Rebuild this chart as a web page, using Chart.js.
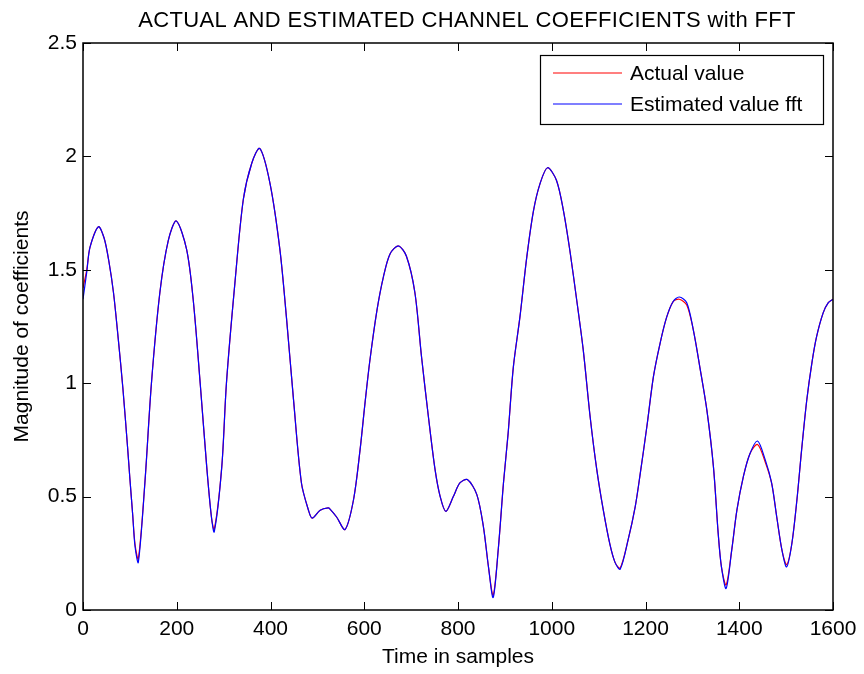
<!DOCTYPE html>
<html>
<head>
<meta charset="utf-8">
<title>Actual and estimated channel coefficients with FFT</title>
<script src="https://cdn.jsdelivr.net/npm/chart.js@4"></script>
<style>
  html, body { margin: 0; padding: 0; background: #fff; }
  canvas { display: block; }
</style>
</head>
<body>
<canvas id="chart" width="864" height="674"></canvas>
<script>
const samples = [
  0, 8, 15, 33, 45, 55, 65, 75, 85, 95, 100, 106, 111, 118, 132, 146, 164, 182, 199,
  221, 235, 250, 264, 274, 280, 296, 306, 324, 342, 360, 377, 399, 420, 434, 449,
  466, 481, 489, 506, 523, 527, 541, 559, 577, 591, 602, 612, 627, 641, 655, 673,
  690, 708, 722, 737, 751, 762, 774, 790, 804, 820, 840, 854, 865, 875, 886, 897,
  907, 918, 932, 947, 961, 975, 991, 1010, 1025, 1039, 1053, 1067, 1082, 1096, 1110, 1124,
  1135, 1146, 1163, 1178, 1188, 1203, 1217, 1231, 1245, 1259, 1272, 1288, 1302, 1316, 1331, 1345,
  1355, 1362, 1372, 1384, 1395, 1409, 1423, 1439, 1455, 1469, 1480, 1491, 1501, 1512, 1523, 1533,
  1544, 1555, 1565, 1579, 1590, 1600
];

const actualValues = [
  1.42, 1.50, 1.60, 1.69, 1.64, 1.54, 1.40, 1.20, 0.98, 0.72, 0.58, 0.42, 0.29, 0.225, 0.56, 1.00, 1.40, 1.63, 1.715,
  1.59, 1.37, 1.00, 0.63, 0.41, 0.355, 0.63, 1.00, 1.44, 1.81, 1.97, 2.035, 1.88, 1.59, 1.29, 0.93,
  0.56, 0.44, 0.405, 0.44, 0.45, 0.445, 0.41, 0.355, 0.485, 0.705, 0.92, 1.10, 1.32, 1.47, 1.57, 1.605,
  1.56, 1.40, 1.12, 0.85, 0.62, 0.50, 0.435, 0.50, 0.56, 0.575, 0.51, 0.37, 0.19, 0.065, 0.27, 0.56,
  0.78, 1.07, 1.29, 1.56, 1.76, 1.88, 1.95, 1.895, 1.76, 1.58, 1.37, 1.15, 0.85, 0.62, 0.44, 0.29,
  0.21, 0.185, 0.31, 0.455, 0.59, 0.81, 1.03, 1.175, 1.29, 1.36, 1.37, 1.345, 1.235, 1.07, 0.88, 0.63,
  0.34, 0.19, 0.11, 0.265, 0.44, 0.59, 0.69, 0.73, 0.655, 0.56, 0.41, 0.265, 0.20, 0.29, 0.485, 0.705,
  0.925, 1.09, 1.205, 1.31, 1.355, 1.37
];

const estimatedValues = [
  1.37, 1.49, 1.60, 1.69, 1.64, 1.54, 1.40, 1.20, 0.98, 0.72, 0.58, 0.42, 0.28, 0.21, 0.56, 1.00, 1.40, 1.63, 1.715,
  1.59, 1.37, 1.00, 0.63, 0.41, 0.345, 0.63, 1.00, 1.44, 1.81, 1.97, 2.035, 1.88, 1.59, 1.29, 0.93,
  0.56, 0.44, 0.405, 0.44, 0.45, 0.445, 0.41, 0.355, 0.485, 0.705, 0.92, 1.10, 1.32, 1.47, 1.57, 1.605,
  1.56, 1.40, 1.12, 0.85, 0.62, 0.50, 0.435, 0.50, 0.56, 0.575, 0.51, 0.37, 0.19, 0.055, 0.27, 0.56,
  0.78, 1.07, 1.29, 1.56, 1.76, 1.88, 1.95, 1.895, 1.76, 1.58, 1.37, 1.15, 0.85, 0.62, 0.44, 0.29,
  0.21, 0.18, 0.31, 0.455, 0.59, 0.81, 1.03, 1.175, 1.29, 1.36, 1.38, 1.355, 1.235, 1.07, 0.88, 0.63,
  0.34, 0.19, 0.095, 0.265, 0.44, 0.59, 0.69, 0.745, 0.665, 0.56, 0.41, 0.265, 0.19, 0.29, 0.485, 0.705,
  0.925, 1.09, 1.205, 1.31, 1.355, 1.37
];

const xTicks = [0, 200, 400, 600, 800, 1000, 1200, 1400, 1600];
const yTicks = [0, 0.5, 1, 1.5, 2, 2.5];
const seriesNames = ["Actual value", "Estimated value fft"];
const titleText = "ACTUAL AND ESTIMATED CHANNEL COEFFICIENTS with FFT";

const TICK_LEN = 8;
const FONT = "'Liberation Sans', Arial, Helvetica, sans-serif";

Chart.defaults.font.family = FONT;
Chart.defaults.font.size = 21;
Chart.defaults.color = "#000";

function toPoints(values) {
  return samples.map((s, i) => ({ x: s, y: values[i] }));
}

// box round the plot with inward ticks on all four sides, like matlab
const boxPlugin = {
  id: "boxPlugin",
  afterDatasetsDraw(chart) {
    const { ctx, chartArea: a, scales } = chart;
    ctx.save();
    ctx.strokeStyle = "#000";
    ctx.lineWidth = 1;
    ctx.beginPath();
    scales.x.ticks.forEach(t => {
      const px = Math.round(scales.x.getPixelForValue(t.value)) + 0.5;
      ctx.moveTo(px, a.bottom); ctx.lineTo(px, a.bottom - TICK_LEN);
      ctx.moveTo(px, a.top); ctx.lineTo(px, a.top + TICK_LEN);
    });
    scales.y.ticks.forEach(t => {
      const py = Math.round(scales.y.getPixelForValue(t.value)) + 0.5;
      ctx.moveTo(a.left, py); ctx.lineTo(a.left + TICK_LEN, py);
      ctx.moveTo(a.right, py); ctx.lineTo(a.right - TICK_LEN, py);
    });
    ctx.stroke();
    ctx.lineWidth = 1.5;
    ctx.strokeRect(a.left, a.top, a.right - a.left, a.bottom - a.top);
    ctx.restore();
  }
};

// title and legend box, drawn by hand
const textPlugin = {
  id: "textPlugin",
  afterDraw(chart) {
    const { ctx, chartArea: a } = chart;
    ctx.save();

    ctx.fillStyle = "#000";
    ctx.font = "22px " + FONT;
    ctx.letterSpacing = "0.35px";
    ctx.textAlign = "center";
    ctx.textBaseline = "alphabetic";
    ctx.fillText(titleText, (a.left + a.right) / 2 + 9, 27);
    ctx.letterSpacing = "0px";

    const w = 283, h = 69;
    const left = a.right - 10 - w;
    const top = a.top + 12;
    ctx.fillStyle = "#fff";
    ctx.fillRect(left, top, w, h);
    ctx.strokeStyle = "#000";
    ctx.lineWidth = 1.2;
    ctx.strokeRect(left + 0.5, top + 0.5, w, h);
    ctx.font = "21px " + FONT;
    ctx.textAlign = "left";
    ctx.textBaseline = "middle";
    chart.data.datasets.forEach((ds, i) => {
      const y = top + 18 + i * 31;
      ctx.strokeStyle = ds.borderColor;
      ctx.lineWidth = 1.2;
      ctx.beginPath();
      ctx.moveTo(left + 13, y);
      ctx.lineTo(left + 82, y);
      ctx.stroke();
      ctx.fillStyle = "#000";
      ctx.fillText(ds.label, left + 90, y + 1);
    });
    ctx.restore();
  }
};

new Chart(document.getElementById("chart"), {
  type: "line",
  data: {
    datasets: [
      {
        label: seriesNames[0],
        data: toPoints(actualValues),
        borderColor: "#ff0000",
        borderWidth: 1.2,
        pointRadius: 0,
        tension: 0.3,
        order: 1
      },
      {
        label: seriesNames[1],
        data: toPoints(estimatedValues),
        borderColor: "#0000ff",
        borderWidth: 1.2,
        pointRadius: 0,
        tension: 0.3,
        order: 0
      }
    ]
  },
  options: {
    responsive: false,
    animation: false,
    layout: { padding: { top: 43, right: 31, bottom: 0, left: 0 } },
    plugins: {
      legend: { display: false },
      tooltip: { enabled: false },
      title: { display: false }
    },
    scales: {
      x: {
        type: "linear",
        min: 0,
        max: 1600,
        afterBuildTicks: s => { s.ticks = xTicks.map(v => ({ value: v })); },
        afterFit: s => { s.height = 64; },
        grid: { display: false, drawTicks: false },
        border: { display: false },
        ticks: { padding: 7, maxRotation: 0, callback: v => String(v) },
        title: { display: true, text: "Time in samples", padding: { top: 4, bottom: 4 } }
      },
      y: {
        type: "linear",
        min: 0,
        max: 2.5,
        afterBuildTicks: s => { s.ticks = yTicks.map(v => ({ value: v })); },
        afterFit: s => { s.width = 83; },
        grid: { display: false, drawTicks: false },
        border: { display: false },
        ticks: { padding: 6, callback: v => String(v) },
        title: { display: true, text: "Magnitude of coefficients", padding: { top: 10, bottom: 10 } }
      }
    }
  },
  plugins: [boxPlugin, textPlugin]
});
</script>
</body>
</html>
